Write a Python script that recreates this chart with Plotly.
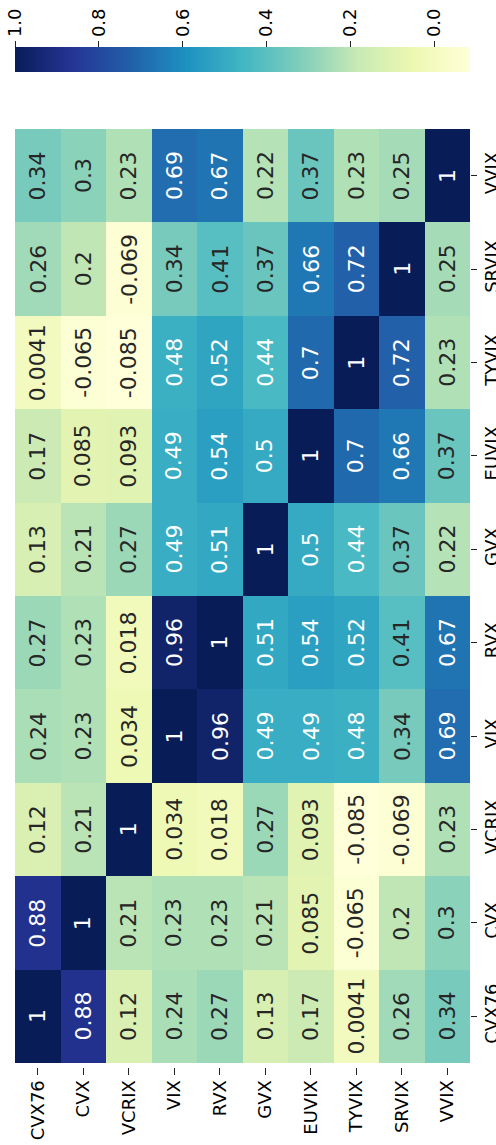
import plotly.graph_objects as go

# ---- data ----
names = ["CVX76", "CVX", "VCRIX", "VIX", "RVX", "GVX", "EUVIX", "TYVIX", "SRVIX", "VVIX"]

cvx76 = [1, 0.88, 0.12, 0.24, 0.27, 0.13, 0.17, 0.0041, 0.26, 0.34]
cvx   = [0.88, 1, 0.21, 0.23, 0.23, 0.21, 0.085, -0.065, 0.2, 0.3]
vcrix = [0.12, 0.21, 1, 0.034, 0.018, 0.27, 0.093, -0.085, -0.069, 0.23]
vix   = [0.24, 0.23, 0.034, 1, 0.96, 0.49, 0.49, 0.48, 0.34, 0.69]
rvx   = [0.27, 0.23, 0.018, 0.96, 1, 0.51, 0.54, 0.52, 0.41, 0.67]
gvx   = [0.13, 0.21, 0.27, 0.49, 0.51, 1, 0.5, 0.44, 0.37, 0.22]
euvix = [0.17, 0.085, 0.093, 0.49, 0.54, 0.5, 1, 0.7, 0.66, 0.37]
tyvix = [0.0041, -0.065, -0.085, 0.48, 0.52, 0.44, 0.7, 1, 0.72, 0.23]
srvix = [0.26, 0.2, -0.069, 0.34, 0.41, 0.37, 0.66, 0.72, 1, 0.25]
vvix  = [0.34, 0.3, 0.23, 0.69, 0.67, 0.22, 0.37, 0.23, 0.25, 1]

cbar_tickvals = [0.0, 0.2, 0.4, 0.6, 0.8, 1.0]
cbar_ticktext = ["0.0", "0.2", "0.4", "0.6", "0.8", "1.0"]

corr = [cvx76, cvx, vcrix, vix, rvx, gvx, euvix, tyvix, srvix, vvix]
n = len(names)

# YlGnBu (ColorBrewer 9-class), light -> dark
ylgnbu = ["#ffffd9", "#edf8b1", "#c7e9b4", "#7fcdbb", "#41b6c4",
          "#1d91c0", "#225ea8", "#253494", "#081d58"]

vmax = 1.0
vmin = min(min(r) for r in corr)

# colorbar runs from 1.0 (left) to vmin (right): plot negated values with reversed scale
rev = ylgnbu[::-1]
colorscale = [[k / (len(rev) - 1), c] for k, c in enumerate(rev)]


def hex2rgb(h):
    return [int(h[i:i + 2], 16) / 255 for i in (1, 3, 5)]


def color_at(v):
    t = (v - vmin) / (vmax - vmin)
    t = min(max(t, 0), 1) * (len(ylgnbu) - 1)
    k = min(int(t), len(ylgnbu) - 2)
    f = t - k
    a, b = hex2rgb(ylgnbu[k]), hex2rgb(ylgnbu[k + 1])
    return [a[m] + f * (b[m] - a[m]) for m in range(3)]


def luminance(rgb):
    lin = [c / 12.92 if c <= 0.03928 else ((c + 0.055) / 1.055) ** 2.4 for c in rgb]
    return 0.2126 * lin[0] + 0.7152 * lin[1] + 0.0722 * lin[2]


z = [[-corr[i][j] for i in range(n)] for j in range(n)]
cd = [[corr[i][j] for i in range(n)] for j in range(n)]

FONT = "DejaVu Sans"
H_PLOT = 1067  # paper height in px (top margin 0)

fig = go.Figure()
fig.add_trace(go.Heatmap(
    x=names, y=names, z=z, customdata=cd,
    colorscale=colorscale, zmin=-vmax, zmax=-vmin,
    hovertemplate="%{x} / %{y}: %{customdata:.2g}<extra></extra>",
    colorbar=dict(
        orientation="h", x=0, xanchor="left", len=1, lenmode="fraction",
        y=(H_PLOT - 71.7) / H_PLOT, yanchor="bottom", thickness=25,
        thicknessmode="pixels", xpad=0, ypad=0, outlinewidth=0,
        showticklabels=False, ticks="",
    ),
))

# invisible carrier so the colorbar tick axis (x2) is drawn
fig.add_trace(go.Scatter(
    x=[vmax, vmin], y=[names[0], names[0]], xaxis="x2", yaxis="y",
    mode="markers", marker=dict(opacity=0), hoverinfo="skip", showlegend=False,
))

annotations = []
for i in range(n):
    for j in range(n):
        v = corr[i][j]
        col = "#262626" if luminance(color_at(v)) > 0.408 else "white"
        annotations.append(dict(
            x=names[i], y=names[j], xref="x", yref="y",
            text=format(v, ".2g"), textangle=-90, showarrow=False,
            font=dict(family=FONT, size=22, color=col),
        ))

tickfont = dict(size=18, family=FONT, color="black")

fig.update_layout(
    width=496, height=1145,
    margin=dict(l=15, r=26, t=0, b=1145 - H_PLOT, pad=0),
    paper_bgcolor="white", plot_bgcolor="white",
    font=dict(family=FONT, color="black"),
    annotations=annotations,
    showlegend=False,
    xaxis=dict(
        domain=[0, 1], tickangle=-90, ticks="outside", ticklen=7, tickwidth=1.3,
        tickcolor="#222", tickfont=tickfont, ticklabelstandoff=-2,
        showgrid=False, zeroline=False, showline=False, automargin=False,
        anchor="y",
    ),
    yaxis=dict(
        domain=[0, 938 / H_PLOT], side="right", tickangle=-90, ticks="outside",
        ticklen=6, tickwidth=1.3, tickcolor="#222", tickfont=tickfont,
        ticklabelstandoff=-1,
        showgrid=False, zeroline=False, showline=False, automargin=False,
    ),
    xaxis2=dict(
        overlaying="x", anchor="free", position=(H_PLOT - 46.7) / H_PLOT, side="top",
        range=[vmax, vmin], tickmode="array", tickvals=cbar_tickvals,
        ticktext=cbar_ticktext, tickangle=-90, ticks="outside", ticklen=6,
        tickwidth=1.3, tickcolor="#222", tickfont=tickfont,
        showgrid=False, zeroline=False, showline=False, automargin=False,
    ),
)

fig.write_html("out.html", config={"displayModeBar": False},
               post_script="document.body.style.margin='0';")
